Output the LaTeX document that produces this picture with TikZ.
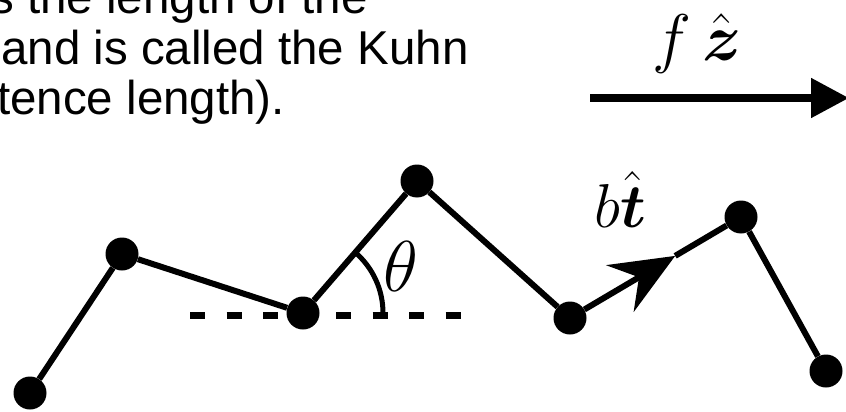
\RequirePackage{fix-cm}
\documentclass[tikz,border=0pt]{standalone}
\usepackage{amsmath,amssymb}
\usepackage{fontspec}
\setmainfont{Liberation Sans}
\usepackage{tikz}
\usetikzlibrary{arrows.meta,calc}

\begin{document}
\begin{tikzpicture}[
    x=1pt, y=-1pt,
    bead/.style={circle, fill=black, inner sep=0pt, minimum size=33pt},
    bond/.style={line width=6pt},
    txt/.style={anchor=base west, inner sep=0pt, font=\fontsize{47.5}{50}\selectfont},
    lbl/.style={anchor=base west, inner sep=0pt}
]
\useasboundingbox (0,0) rectangle (846,412);
\clip (0,0) rectangle (846,412);
% text cut from the page
\node[txt] (line1) at (-10,14) {s the length of the};
\node[txt] (line2) at (1,64) {and is called the Kuhn};
\node[txt] (line3) at (-3,114) {tence length).};
% force
\coordinate (fstart) at (590,98);
\coordinate (fend) at (849,98);
\draw[line width=8pt, -{Triangle[length=38pt,width=38pt]}] (fstart) -- (fend);
\node[lbl, font=\fontsize{66}{66}\selectfont] (flabel) at (652,60) {$f\,\hat{\boldsymbol{z}}$};
% reference line
\coordinate (dl) at (190,315);
\coordinate (dr) at (461,315);
\draw[line width=7pt, dash pattern=on 15pt off 21.5pt] (dl) -- (dr);
% chain
\node[bead] (b1) at (30,393) {};
\node[bead] (b2) at (122,254) {};
\node[bead] (b3) at (303,313) {};
\node[bead] (b4) at (417,181) {};
\node[bead] (b5) at (570,318) {};
\node[bead] (b6) at (741,217) {};
\node[bead] (b7) at (826,371) {};
\draw[bond] (b1) -- (b2) -- (b3) -- (b4) -- (b5);
\draw[bond] (b6) -- (b7);
\coordinate (tip) at ($(b5)!0.615!(b6)$);
\draw[bond, -{Stealth[length=64pt,width=54pt,inset=22pt]}] (b5) -- (tip);
\draw[bond] (tip) -- (b6);
% angle
\draw[line width=5pt] let \p1=($(b4)-(b3)$), \n1={atan2(\y1,\x1)} in
    ($(b3)!80pt!(b4)$) arc[start angle=\n1, end angle=0, radius=80pt];
\node[lbl, font=\fontsize{72}{72}\selectfont] (theta) at (383,291) {$\theta$};
\node[lbl, font=\fontsize{62}{62}\selectfont] (tlabel) at (594,227) {$b\hat{\boldsymbol{t}}$};
\end{tikzpicture}
\end{document}
